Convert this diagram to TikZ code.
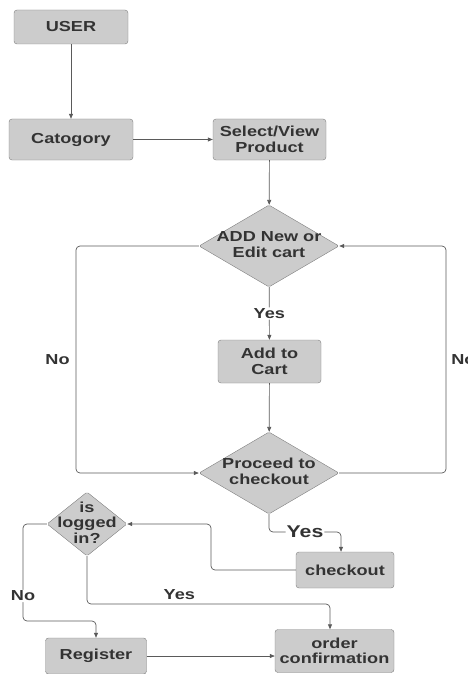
\documentclass[tikz,border=0pt]{standalone}
\usepackage{fontspec}
\setmainfont{Liberation Sans}[FakeStretch=1.25]
\usetikzlibrary{shapes.geometric,arrows.meta}

\definecolor{boxfill}{HTML}{CCCCCC}
\definecolor{boxline}{HTML}{7F7F7F}
\definecolor{inktext}{HTML}{333333}
\definecolor{wire}{HTML}{5A5A5A}

\newcommand{\labelfont}{\bfseries\fontsize{14.5}{15.5}\selectfont}
% text that does not push the diamond outline
\newcommand{\flattext}[1]{\makebox[0pt]{\raisebox{-4pt}[0pt][0pt]{\begin{tabular}{@{}c@{}}#1\end{tabular}}}}

\tikzset{
  stepbox/.style={draw=boxline, fill=boxfill, rounded corners=3pt, text=inktext,
    font=\labelfont, align=center, inner sep=0pt},
  choice/.style={diamond, draw=boxline, fill=boxfill, rounded corners=1.5pt, text=inktext,
    font=\labelfont, inner sep=0pt},
  flow/.style={draw=wire, line width=0.7pt, rounded corners=4pt,
    -{Triangle[length=5pt,width=4pt]}},
  tag/.style={text=inktext, font=\labelfont, inner sep=1pt}
}

\begin{document}
\begin{tikzpicture}[x=1pt,y=-1pt]
\useasboundingbox (0,0) rectangle (467,674);
\clip (0,0) rectangle (467,674);

% boxes
\node[stepbox, minimum width=114pt, minimum height=34pt] (user) at (71,27) {USER};
\node[stepbox, minimum width=124pt, minimum height=41pt] (cat) at (71,139.5) {Catogory};
\node[stepbox, minimum width=113pt, minimum height=41pt] (sel) at (269.5,139.5) {Select/View\\Product};
\node[choice, minimum width=140pt, minimum height=82pt] (add) at (269,246) {\flattext{ADD New or\\Edit cart}};
\node[stepbox, minimum width=103pt, minimum height=43pt] (cart) at (269.5,361.5) {Add to\\Cart};
\node[choice, minimum width=140pt, minimum height=82pt] (proc) at (269,473) {\flattext{Proceed to\\checkout}};
\node[stepbox, minimum width=98pt, minimum height=36pt] (chk) at (345,570) {checkout};
\node[choice, minimum width=80pt, minimum height=64pt] (logged) at (87,524) {\flattext{is\\logged\\in?}};
\node[stepbox, minimum width=101pt, minimum height=36pt] (reg) at (96,656) {Register};
\node[stepbox, minimum width=119pt, minimum height=43pt] (conf) at (334.5,651) {order\\confirmation};

% bends
\coordinate (lbend) at (76,360);
\coordinate (rbend) at (446,360);
\coordinate (yesbend) at (305,532);
\coordinate (cbend) at (211,545);
\coordinate (nbend) at (23,596);
\coordinate (rjoin) at (96,621);
\coordinate (yjoin) at (330,604);

% connectors
\draw[flow] (user) -- (cat);
\draw[flow] (cat) -- (sel);
\draw[flow] (sel) -- (add);
\draw[flow] (add) -- node[tag, fill=white] {Yes} (cart);
\draw[flow] (cart) -- (proc);
\draw[flow] (add.west) -| (lbend) node[tag, left=5pt] {No} |- (proc.west);
\draw[flow] (proc.east) -| (rbend) node[tag, right=4pt] {No} |- (add.east);
\draw[flow] (proc.south) |- (yesbend) node[tag, fill=white, font=\bfseries\fontsize{17}{18}\selectfont] {Yes}
  -| ([xshift=-4pt]chk.north);
\draw[flow] (chk.west) -| (cbend) |- (logged.east);
\draw[flow] (logged.west) -| (nbend) node[tag, fill=white] {No} |- (rjoin) -- (reg.north);
\draw[flow] (logged.south) |- (yjoin) node[tag, pos=0.69, above=3pt] {Yes} -- ([xshift=-4.5pt]conf.north);
\draw[flow] (reg.east) -- (reg.east -| conf.west);
\end{tikzpicture}
\end{document}
